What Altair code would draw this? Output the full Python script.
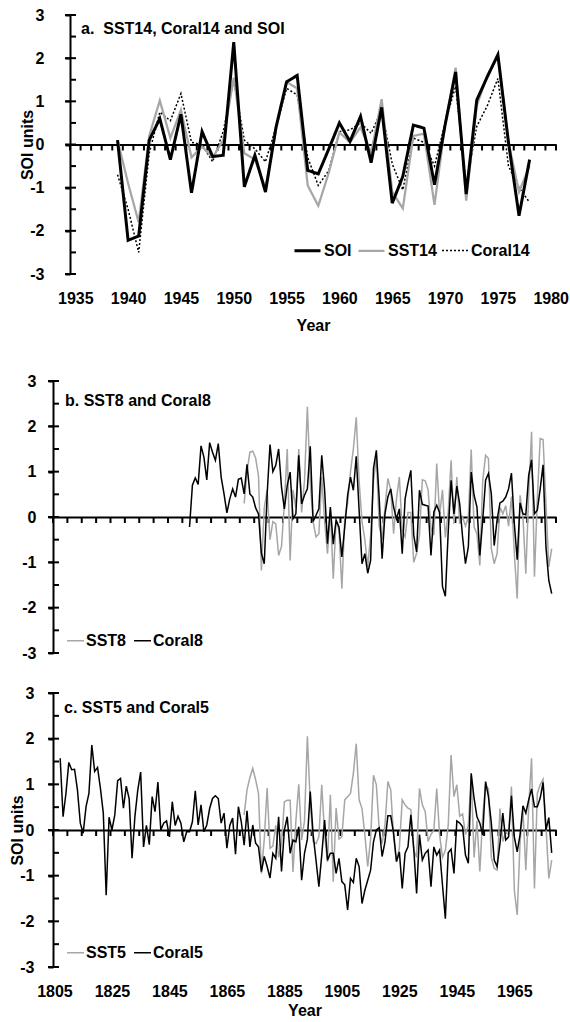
import altair as alt
import pandas as pd

FONT = "Liberation Sans"
BLACK = "#000000"
GRAY = "#a6a6a6"

# ---------------- Panel a: SST14, Coral14 and SOI (1939-1978) ----------------
A_START = 1939
SOI = [0.1, -2.22, -2.12, 0.1, 0.6, -0.35, 0.7, -1.12, 0.3, -0.28,
       -0.25, 2.37, -0.98, -0.25, -1.1, 0.4, 1.45, 1.6, -0.6, -0.68,
       -0.1, 0.5, 0.07, 0.65, -0.42, 0.86, -1.36, -0.74, 0.45, 0.38,
       -0.93, 0.45, 1.68, -1.15, 1.03, 1.57, 2.08, 0.05, -1.65, -0.35]
SST14 = [0.1, -0.9, -1.8, 0.2, 1.02, 0.15, 0.8, -0.3, -0.05, -0.3,
         0.1, 1.55, -0.2, -0.35, -1.0, 0.35, 1.45, 1.3, -0.95, -1.42,
         -0.65, 0.28, 0.05, 0.4, -0.2, 1.05, -1.1, -1.48, 0.2, 0.25,
         -1.4, 0.45, 1.78, -1.3, 0.9, 1.6, 2.05, 0.05, -1.1, -0.5]
CORAL14 = [-0.7, -1.5, -2.5, -0.2, 0.75, 0.55, 1.18, 0.05, 0.0, -0.4,
           0.3, 1.5, 0.1, -0.1, -0.4, 0.4, 1.3, 1.15, -0.3, -0.95,
           -0.6, 0.3, 0.34, 0.5, 0.26, 0.8, -0.45, -1.05, 0.15, 0.05,
           -0.5, 0.5, 1.35, -0.97, 0.42, 0.9, 1.53, -0.5, -1.0, -1.34]

# ---------------- Panel b: SST8 and Coral8 ----------------
SST8_START = 1871
SST8 = [0.3, 1.0, 1.43, 1.45, 1.3, 0.9, -1.18, 0.2, 0.6, -0.5,
        -0.1, -0.15, -0.85, -0.65, 0.3, 1.5, -0.96, 0.6, 0.2, 1.5,
        0.1, 0.8, 2.43, 0.77, -0.1, -0.44, -0.37, 0.88, -0.1, -0.81,
        0.15, -1.36, -0.07, -0.3, -1.58, -0.05, 0.3, 1.0, 1.5, 2.2,
        0.8, -0.1, -0.5, -1.1, -0.4, 0.8, 1.3, -0.2, -0.5, 0.2,
        0.85, 0.6, -0.37, 0.4, 0.88, -0.3, -0.44, 0.1, 0.1, -1.0,
        -0.8, -0.4, 0.82, 0.8, 0.6, -0.25, -0.4, 1.18, 0.05, 0.6,
        -0.45, 0.1, 1.25, -0.15, 0.88, -0.15, 0.0, -0.2, 0.0, 1.49,
        -0.22, -0.37, -1.07, 0.8, 1.36, 1.29, -0.7, -1.03, -0.81, 0.22,
        0.07, 0.25, -0.2, 0.45, -0.8, -1.8, 0.48, 0.0, -1.25, 0.5,
        1.88, -1.32, 0.4, 1.73, 1.71, 0.3, -1.1, -0.7]
CORAL8_START = 1852
CORAL8 = [-0.22, 0.70, 0.86, 0.72, 1.57, 1.32, 0.82, 1.64, 1.43, 1.25,
          1.62, 0.88, 0.51, 0.09, 0.40, 0.62, 0.44, 0.83, 0.86, 0.51,
          1.16, 0.51, 0.44, 0.2, 0.07, -0.8, -1.03, 0.5, 1.6, 1.0,
          1.14, 1.5, 0.66, 0.18, 0.70, 0.99, -0.04, 0.07, 1.36, 0.29,
          0.48, 0.62, 1.56, -0.1, 0.04, 0.18, 1.36, 0.59, -0.59, 0.22,
          -0.6, -0.07, -0.22, -0.88, -0.22, 0.48, 0.88, 0.59, 1.34, 0.15,
          -1.03, -0.81, -1.24, -0.96, 1.07, 1.47, 0.4, -0.92, 0.07, 0.44,
          0.62, 0.22, -0.04, 0.18, -0.81, 0.4, 0.74, 1.03, -0.4, -0.77,
          0.59, 0.28, 0.26, 0.24, -0.85, 0.11, 0.26, 0.1, -1.53, -1.75,
          -0.33, 0.81, 0.07, 0.68, 0.29, -0.44, -1.03, -0.66, 0.99, 0.48,
          0.22, -0.85, -0.07, 0.81, 0.96, 0.51, -0.63, -0.07, 0.31, 0.35,
          0.44, 0.62, 0.97, -0.15, -0.94, 0.31, 0.07, 0.05, 0.92, 1.26,
          0.07, 0.15, 0.62, 1.15, -0.66, -1.4, -1.69]

# ---------------- Panel c: SST5 and Coral5 ----------------
SST5_START = 1871
SST5 = [0.33, 0.88, 1.15, 1.35, 1.1, 0.8, -0.95, -0.2, 0.92, -0.4,
        -0.35, 0.1, -0.6, -0.3, 0.62, 0.65, 0.65, -0.92, 0.2, 1.0,
        -0.22, 0.2, 2.05, 0.6, -0.26, -0.3, -0.15, 0.99, -0.1, -0.7,
        0.77, -1.13, 0.48, -0.2, -0.15, 0.66, 0.73, 0.8, 1.24, 1.89,
        0.66, 0.47, -0.1, -0.8, -0.2, 1.2, 0.99, 0.0, -0.3, 0.1,
        1.06, 0.88, -0.15, -0.7, -0.4, 0.66, 0.55, 0.48, 0.45, -0.44,
        -0.6, 0.91, 0.55, 0.4, -0.25, -0.1, 0.0, 0.91, -0.1, -0.6,
        -0.45, 0.1, 1.64, 0.73, 0.99, 0.3, 0.35, -0.1, 0.1, 1.2,
        -0.6, 0.2, -0.91, 0.3, 0.99, 0.9, -0.6, -0.84, -0.88, 0.47,
        -0.25, -0.05, -0.1, 0.95, -1.32, -1.86, -0.26, 0.45, -0.88, 0.5,
        1.57, -1.28, 0.8, 0.99, 1.11, 0.1, -1.06, -0.66]
CORAL5_START = 1807
CORAL5 = [1.57, 0.29, 0.8, 1.48, 1.32, 1.33, 0.88, 0.15, -0.07, 0.51,
          0.8, 1.86, 1.28, 1.37, 0.91, 0.37, -1.43, 0.28, 0.0, 0.33,
          1.08, 1.13, 0.48, 0.96, 0.68, -0.62, 0.3, 0.88, 1.27, -0.37,
          0.1, -0.32, 0.73, 0.4, 1.05, 0.0, 0.15, 0.2, -0.15, 0.62,
          0.1, 0.3, 0.15, -0.26, -0.04, -0.04, 0.18, 0.86, 0.11, 0.55,
          -0.04, 0.11, 0.47, 0.69, 0.75, 0.69, 0.15, 0.37, -0.4, 0.1,
          0.26, -0.53, 0.51, 0.18, -0.33, 0.42, -0.37, 0.11, -0.29, -0.37,
          -0.91, -0.58, -0.8, -1.05, -0.51, -0.62, 0.29, -0.91, 0.0, 0.29,
          -0.51, -0.22, -0.26, 0.07, -1.1, -0.51, -0.2, 0.84, -0.1, -0.66,
          -1.24, -0.55, 0.22, -0.66, -0.51, -0.51, -0.95, -0.62, -1.13, -1.2,
          -1.75, -1.06, -1.15, -0.62, -0.8, -1.61, -1.32, -1.1, -0.88, -0.26,
          0.0, 0.05, -0.58, -0.26, 0.31, 0.31, -0.07, -0.69, -0.48, -1.28,
          -0.51, -0.37, 0.33, -0.4, -1.39, -0.1, -0.66, -0.51, -0.44, -1.24,
          -0.37, -0.55, -0.44, -1.2, -1.94, -0.5, -0.42, -0.95, 0.2, 0.15,
          0.07, -0.55, -0.73, 1.24, 0.69, 0.29, 0.15, -0.11, 1.06, 0.73,
          0.15, -0.66, -0.8, -0.3, 0.37, -0.22, -0.15, 0.75, -0.15, -0.48,
          -0.1, 0.53, 0.37, 0.66, 0.9, 0.51, 0.51, 0.7, 1.04, 0.0,
          0.27, -0.5]

# ---------------- axis values ----------------
A_LABEL_YEARS = [1935, 1940, 1945, 1950, 1955, 1960, 1965, 1970, 1975, 1980]
C_LABEL_YEARS = [1805, 1825, 1845, 1865, 1885, 1905, 1925, 1945, 1965]
A_TICK_BOUNDS = [1934.5 + i for i in range(47)]
BC_TICK_BOUNDS = [1804.5 + 5 * i for i in range(36)]
Y_LABELS = [-3, -2, -1, 0, 1, 2, 3]
Y_MINOR = [-2.5, -1.5, -0.5, 0.5, 1.5, 2.5]


def long_frame(parts):
    rows = []
    for name, start, values in parts:
        for i, v in enumerate(values):
            rows.append({"year": start + i, "value": v, "series": name})
    return pd.DataFrame(rows)


df_a = long_frame([("Coral14", A_START, CORAL14), ("SST14", A_START, SST14), ("SOI", A_START, SOI)])
df_b = long_frame([("SST8", SST8_START, SST8), ("Coral8", CORAL8_START, CORAL8)])
df_c = long_frame([("SST5", SST5_START, SST5), ("Coral5", CORAL5_START, CORAL5)])

LBL = dict(labelFont=FONT, labelFontSize=16, labelFontWeight="bold", labelColor=BLACK)
TTL = dict(titleFont=FONT, titleFontSize=16, titleFontWeight="bold", titleColor=BLACK)
LINE = dict(domainColor=BLACK, domainWidth=2, tickColor=BLACK, tickWidth=2, grid=False)


def panel(df, *, width, view_h, plot_h, x_domain, x_range, tick_bounds, y_offset,
          y_label_pad, y_title, y_title_pad, label_values, label_pad, year_pad,
          title_text, title_dx, title_dy, enc, line_width=None):
    xs = alt.Scale(domain=x_domain, range=x_range, nice=False, zero=False)
    ys = alt.Scale(domain=[-3, 3], range=[plot_h, 0], nice=False, zero=False)

    y_axis = alt.Axis(orient="left", values=Y_LABELS, labelExpr="'' + datum.value",
                      offset=y_offset, tickSize=5, labelPadding=y_label_pad,
                      title=y_title, titlePadding=y_title_pad, **LBL, **TTL, **LINE)
    if label_values:
        x_axis = alt.Axis(orient="bottom", values=label_values, labelExpr="'' + datum.value",
                          labelFlush=False, labelOverlap=False, offset=plot_h - view_h,
                          domain=False, ticks=False, tickSize=0, labelPadding=label_pad,
                          title="Year", titlePadding=year_pad, grid=False, **LBL, **TTL)
    else:
        x_axis = None

    # tick marks on the zero line (category boundaries) and on the y axis, drawn as rules
    zero_ticks = alt.Chart(pd.DataFrame({"year": tick_bounds, "value": [0] * len(tick_bounds)})).mark_rule(
        strokeWidth=2, color=BLACK, yOffset=0, y2Offset=6
    ).encode(x=alt.X("year:Q", scale=xs, axis=None), y=alt.Y("value:Q", scale=ys, axis=None), y2="value:Q")
    major_ticks = alt.Chart(pd.DataFrame({"year": [x_domain[0]] * len(Y_LABELS), "value": Y_LABELS})).mark_rule(
        strokeWidth=2, color=BLACK, xOffset=-5, x2Offset=6
    ).encode(x=alt.X("year:Q", scale=xs, axis=None), x2="year:Q", y=alt.Y("value:Q", scale=ys, axis=None))
    minor_ticks = alt.Chart(pd.DataFrame({"year": [x_domain[0]] * len(Y_MINOR), "value": Y_MINOR})).mark_rule(
        strokeWidth=2, color=BLACK, xOffset=0, x2Offset=6
    ).encode(x=alt.X("year:Q", scale=xs, axis=None), x2="year:Q", y=alt.Y("value:Q", scale=ys, axis=None))

    mark = alt.Chart().mark_line(strokeWidth=line_width) if line_width else alt.Chart().mark_line()
    lines = mark.encode(
        x=alt.X("year:Q", scale=xs, axis=x_axis),
        y=alt.Y("value:Q", scale=ys, axis=y_axis),
        **enc,
    )

    zero_axis = alt.Axis(orient="bottom", values=tick_bounds, offset=plot_h / 2 - view_h,
                         labels=False, ticks=False, title=None, **LINE)
    guides = alt.Chart().mark_point(opacity=0).encode(
        x=alt.X("year:Q", scale=xs, axis=zero_axis),
        y=alt.Y("value:Q", scale=ys, axis=None),
    )
    return alt.layer(zero_ticks, major_ticks, minor_ticks, lines, guides, data=df).resolve_axis(
        x="independent", y="independent"
    ).properties(
        width=width, height=view_h,
        title=alt.TitleParams(title_text, anchor="start", frame="group", offset=0,
                              dx=title_dx, dy=title_dy, baseline="middle",
                              font=FONT, fontSize=16, fontWeight="bold", color=BLACK),
    )


# legends
A_ORDER = ["SOI", "SST14", "Coral14"]
legend_a = alt.Legend(title=None, orient="none", legendX=240, legendY=221, direction="horizontal",
                      symbolType="stroke", symbolSize=676, labelOffset=2, columnPadding=2,
                      padding=0, **LBL)
enc_a = dict(
    color=alt.Color("series:N", scale=alt.Scale(domain=A_ORDER, range=[BLACK, GRAY, BLACK]), legend=legend_a),
    strokeDash=alt.StrokeDash("series:N", scale=alt.Scale(domain=A_ORDER, range=[[1, 0], [1, 0], [2, 2]]), legend=legend_a),
    strokeWidth=alt.StrokeWidth("series:N", scale=alt.Scale(domain=A_ORDER, range=[3, 1.5, 1.2]), legend=legend_a),
)


def bc_legend_enc(order):
    lg = alt.Legend(title=None, orient="none", legendX=13, legendY=250, direction="horizontal",
                    symbolType="stroke", symbolSize=289, symbolStrokeWidth=1.5, labelOffset=1,
                    columnPadding=4, padding=0, **LBL)
    return dict(color=alt.Color("series:N", scale=alt.Scale(domain=order, range=[GRAY, BLACK]), legend=lg))


pa = panel(df_a, width=503, view_h=326, plot_h=259, x_domain=[1934.5, 1980.5], x_range=[17, 503],
           tick_bounds=A_TICK_BOUNDS, y_offset=-17, y_label_pad=21, y_title="SOI units", y_title_pad=-6,
           label_values=A_LABEL_YEARS, label_pad=16, year_pad=11,
           title_text="a.\u00a0 SST14, Coral14 and SOI", title_dx=28, title_dy=38, enc=enc_a)

pb = panel(df_b, width=503, view_h=272, plot_h=272, x_domain=[1804.5, 1979.5], x_range=[0, 503],
           tick_bounds=BC_TICK_BOUNDS, y_offset=0, y_label_pad=12, y_title=None, y_title_pad=0,
           label_values=None, label_pad=0, year_pad=0,
           title_text="b. SST8 and Coral8", title_dx=12, title_dy=44,
           enc=bc_legend_enc(["SST8", "Coral8"]), line_width=1.5)

pc = panel(df_c, width=503, view_h=274, plot_h=274, x_domain=[1804.5, 1979.5], x_range=[0, 503],
           tick_bounds=BC_TICK_BOUNDS, y_offset=0, y_label_pad=14, y_title="SOI units", y_title_pad=-6,
           label_values=C_LABEL_YEARS, label_pad=16, year_pad=3,
           title_text="c. SST5 and Coral5", title_dx=11, title_dy=39,
           enc=bc_legend_enc(["SST5", "Coral5"]), line_width=1.5)

chart = alt.vconcat(pa, pb, pc, spacing=40, bounds="flush").resolve_scale(
    color="independent", strokeDash="independent", strokeWidth="independent"
).properties(
    padding={"left": 9, "top": 7, "right": 0, "bottom": 0},
    background="white",
).configure_view(stroke=None)

chart.save("out.html", embed_options={"renderer": "svg", "actions": False})
